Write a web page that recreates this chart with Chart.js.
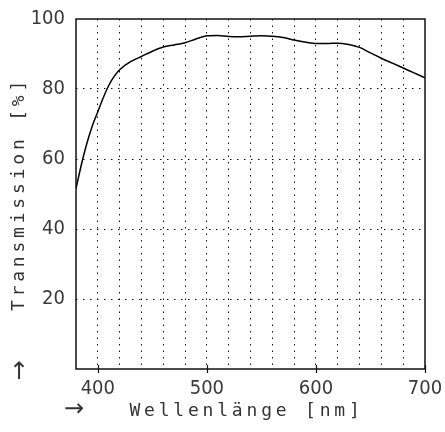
<!DOCTYPE html>
<html>
<head>
<meta charset="utf-8">
<script src="https://cdn.jsdelivr.net/npm/chart.js@4.4.0/dist/chart.umd.min.js"></script>
<style>
  html, body { margin: 0; padding: 0; background: #fff; }
  #wrap { width: 445px; height: 432px; }
</style>
</head>
<body>
<div id="wrap"><canvas id="c" width="445" height="432"></canvas></div>
<script>
const wavelengths = [380, 385, 390, 395, 400, 405, 410, 415, 420, 430, 440, 450, 460, 470, 480, 490, 500, 510, 520, 530, 540, 550, 560, 570, 580, 590, 600, 610, 620, 630, 640, 650, 660, 670, 680, 690, 700];
const transmission = [51.5, 58.5, 64.5, 69.5, 73.5, 77.5, 81, 83.6, 85.5, 87.8, 89.3, 90.8, 92.0, 92.6, 93.2, 94.3, 95.2, 95.3, 95.0, 94.9, 95.1, 95.2, 95.1, 94.7, 94.0, 93.4, 93.0, 93.0, 93.1, 92.7, 91.9, 90.3, 88.8, 87.4, 86.0, 84.6, 83.2];
const xMajorTicks = [400, 500, 600, 700];
const yTickValues = [20, 40, 60, 80, 100];
const xTitle = 'Wellenlänge [nm]';
const yTitle = 'Transmission [%]';

const points = wavelengths.map((w, i) => ({ x: w, y: transmission[i] }));
const tickFont = { family: "'Liberation Sans Narrow', 'DejaVu Sans Condensed', 'Liberation Sans', sans-serif", size: 20 };

const framePlugin = {
  id: 'framePlugin',
  afterDraw(chart) {
    const { ctx, chartArea: a, scales: { x } } = chart;
    ctx.save();
    ctx.strokeStyle = '#111';
    ctx.lineWidth = 1.5;
    ctx.strokeRect(a.left, a.top, a.right - a.left, a.bottom - a.top);
    ctx.lineWidth = 1.2;
    xMajorTicks.forEach(v => {
      const px = Math.round(x.getPixelForValue(v)) + 0.5;
      ctx.beginPath();
      ctx.moveTo(px, a.bottom - 4);
      ctx.lineTo(px, a.bottom + 4);
      ctx.stroke();
    });
    ctx.fillStyle = '#333';
    ctx.font = "18px 'DejaVu Sans Mono', monospace";
    ctx.letterSpacing = '3.8px';
    ctx.textAlign = 'center';
    ctx.textBaseline = 'middle';
    ctx.fillText(xTitle, (a.left + a.right) / 2 - 4, a.bottom + 42);
    ctx.save();
    ctx.translate(19, (a.top + a.bottom) / 2);
    ctx.rotate(-Math.PI / 2);
    ctx.fillText(yTitle, 0, 0);
    ctx.restore();
    ctx.letterSpacing = '0px';
    ctx.font = "24px 'DejaVu Sans', sans-serif";
    ctx.fillText('→', a.left - 2, a.bottom + 41);
    ctx.fillText('↑', 19, a.bottom + 4);
    ctx.restore();
  }
};

new Chart(document.getElementById('c'), {
  type: 'line',
  data: {
    datasets: [{
      data: points,
      borderColor: '#000',
      borderWidth: 1.5,
      pointRadius: 0,
      fill: false,
      cubicInterpolationMode: 'monotone'
    }]
  },
  options: {
    responsive: false,
    animation: false,
    devicePixelRatio: 1,
    plugins: { legend: { display: false }, tooltip: { enabled: false } },
    layout: { padding: { left: 0, right: 20, top: 19, bottom: 0 } },
    scales: {
      x: {
        type: 'linear',
        min: 380,
        max: 700,
        afterFit(s) { s.height = 63; s.paddingLeft = 0; s.paddingRight = 0; },
        ticks: {
          stepSize: 20,
          autoSkip: false,
          maxRotation: 0,
          padding: 8,
          color: '#3a3a3a',
          font: tickFont,
          callback: v => (xMajorTicks.includes(v) ? String(v) : '')
        },
        grid: {
          drawTicks: false,
          color: c => (c.tick && (c.tick.value === 380 || c.tick.value === 700) ? 'rgba(0,0,0,0)' : '#111'),
          lineWidth: 1
        },
        border: { display: false, dash: [1.5, 5] }
      },
      y: {
        min: 0,
        max: 100,
        afterFit(s) { s.width = 76; s.paddingTop = 0; s.paddingBottom = 0; },
        ticks: {
          stepSize: 20,
          padding: 11,
          color: '#3a3a3a',
          font: tickFont,
          callback: v => (yTickValues.includes(v) ? String(v) : '')
        },
        grid: {
          drawTicks: false,
          color: c => (c.tick && (c.tick.value === 0 || c.tick.value === 100) ? 'rgba(0,0,0,0)' : '#111'),
          lineWidth: 1
        },
        border: { display: false, dash: [1.5, 5.5] }
      }
    }
  },
  plugins: [framePlugin]
});
</script>
</body>
</html>
